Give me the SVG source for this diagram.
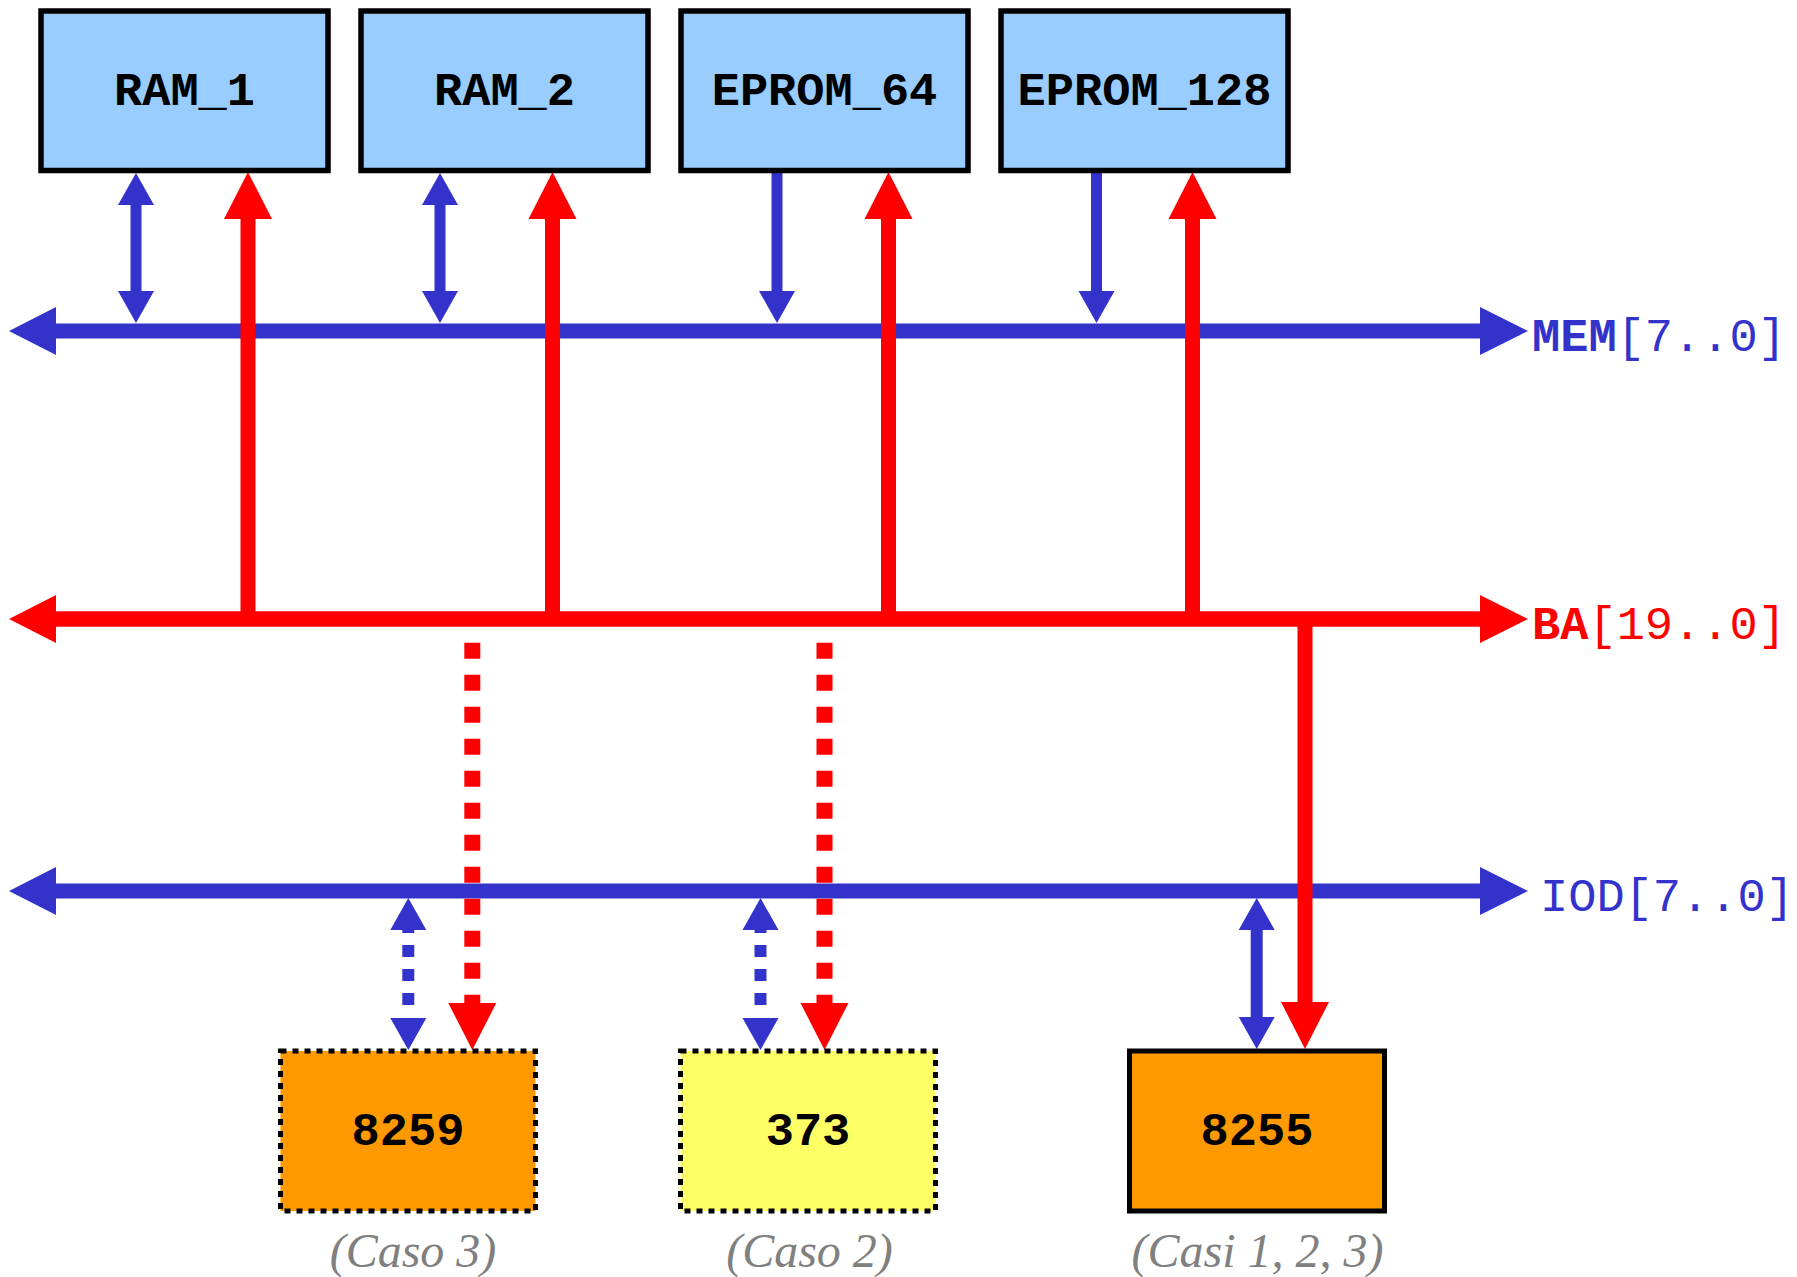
<svg xmlns="http://www.w3.org/2000/svg" xmlns:xlink="http://www.w3.org/1999/xlink" width="1797" height="1277" viewBox="0 0 1797 1277">
<style>
.mem{fill:#99CCFF;stroke:#000;stroke-width:5.5}
.io{stroke:#000;stroke-width:5}
.dot{stroke-dasharray:6 6}
.lbl{font-family:"Liberation Mono","Courier New",monospace;font-weight:bold;font-size:47px;fill:#000;text-anchor:middle}
.bus{font-family:"Liberation Mono","Courier New",monospace;font-size:47px}
.note{font-family:"Liberation Serif","Times New Roman",serif;font-style:italic;font-size:48px;fill:#808080;text-anchor:middle}
.b{stroke:#3333CC;fill:none}
.r{stroke:#FF0000;fill:none}
.bf{fill:#3333CC}
.rf{fill:#FF0000}
</style>
<defs>
<path id="bUp" d="M0,0 L18,32 L-18,32 Z"/>
<path id="bDn" d="M0,0 L18,-32 L-18,-32 Z"/>
<path id="rUp" d="M0,0 L24,47 L-24,47 Z"/>
<path id="rDn" d="M0,0 L24,-47 L-24,-47 Z"/>
<path id="hL" d="M0,0 L47,-24 L47,24 Z"/>
<path id="hR" d="M0,0 L-48,-24 L-48,24 Z"/>
</defs>
<rect width="1797" height="1277" fill="#fff"/>
<g id="connectors">
<line class="b" x1="50" y1="331" x2="1485" y2="331" stroke-width="15"/>
<use href="#hL" x="9" y="331" class="bf"/><use href="#hR" x="1528" y="331" class="bf"/>
<line class="r" x1="248" y1="210" x2="248" y2="619" stroke-width="15"/>
<use href="#rUp" x="248" y="172" class="rf"/>
<line class="r" x1="552.5" y1="210" x2="552.5" y2="619" stroke-width="15"/>
<use href="#rUp" x="552.5" y="172" class="rf"/>
<line class="r" x1="888.5" y1="210" x2="888.5" y2="619" stroke-width="15"/>
<use href="#rUp" x="888.5" y="172" class="rf"/>
<line class="r" x1="1192.5" y1="210" x2="1192.5" y2="619" stroke-width="15"/>
<use href="#rUp" x="1192.5" y="172" class="rf"/>
<line class="b" x1="136" y1="200" x2="136" y2="300" stroke-width="11"/>
<use href="#bUp" x="136" y="173" class="bf"/><use href="#bDn" x="136" y="323" class="bf"/>
<line class="b" x1="440" y1="200" x2="440" y2="300" stroke-width="11"/>
<use href="#bUp" x="440" y="173" class="bf"/><use href="#bDn" x="440" y="323" class="bf"/>
<line class="b" x1="777" y1="172" x2="777" y2="300" stroke-width="11"/>
<use href="#bDn" x="777" y="323" class="bf"/>
<line class="b" x1="1096.5" y1="172" x2="1096.5" y2="300" stroke-width="11"/>
<use href="#bDn" x="1096.5" y="323" class="bf"/>
<line class="r" x1="50" y1="619" x2="1485" y2="619" stroke-width="15.5"/>
<use href="#hL" x="9" y="619" class="rf"/><use href="#hR" x="1528" y="619" class="rf"/>
<line class="b" x1="50" y1="891" x2="1485" y2="891" stroke-width="15"/>
<use href="#hL" x="9" y="891" class="bf"/><use href="#hR" x="1528" y="891" class="bf"/>
<line class="r" x1="472.3" y1="642.7" x2="472.3" y2="1004" stroke-width="16" stroke-dasharray="16 16"/>
<use href="#rDn" x="472.3" y="1050" class="rf"/>
<line class="r" x1="824.5" y1="642.7" x2="824.5" y2="1004" stroke-width="16" stroke-dasharray="16 16"/>
<use href="#rDn" x="824.5" y="1050" class="rf"/>
<line class="r" x1="1305" y1="612" x2="1305" y2="1005" stroke-width="15"/>
<use href="#rDn" x="1305" y="1049" class="rf"/>
<line class="b" x1="408.3" y1="921" x2="408.3" y2="1015" stroke-width="12" stroke-dasharray="12 12"/>
<use href="#bUp" x="408.3" y="898" class="bf"/><use href="#bDn" x="408.3" y="1050" class="bf"/>
<line class="b" x1="760.5" y1="921" x2="760.5" y2="1015" stroke-width="12" stroke-dasharray="12 12"/>
<use href="#bUp" x="760.5" y="898" class="bf"/><use href="#bDn" x="760.5" y="1050" class="bf"/>
<line class="b" x1="1256.7" y1="925" x2="1256.7" y2="1022" stroke-width="12"/>
<use href="#bUp" x="1256.7" y="898" class="bf"/><use href="#bDn" x="1256.7" y="1049" class="bf"/>
</g>
<g id="bus-labels">
<text class="bus" x="1532" y="351" fill="#3333CC"><tspan font-weight="bold">MEM</tspan>[7..0]</text>
<text class="bus" x="1532" y="639" fill="#FF0000"><tspan font-weight="bold">BA</tspan>[19..0]</text>
<text class="bus" x="1540" y="911" fill="#3333CC">IOD[7..0]</text>
</g>
<g id="ram1"><rect class="mem" x="41" y="11" width="287" height="159.5"/><text class="lbl" x="184.5" y="105">RAM_1</text></g>
<g id="ram2"><rect class="mem" x="361" y="11" width="287" height="159.5"/><text class="lbl" x="504.5" y="105">RAM_2</text></g>
<g id="eprom64"><rect class="mem" x="681" y="11" width="287" height="159.5"/><text class="lbl" x="824.5" y="105">EPROM_64</text></g>
<g id="eprom128"><rect class="mem" x="1001" y="11" width="287" height="159.5"/><text class="lbl" x="1144.5" y="105">EPROM_128</text></g>
<g id="ic8259"><rect class="io dot" x="280.5" y="1051" width="255" height="160" fill="#FF9900"/><text class="lbl" x="408" y="1145">8259</text><text class="note" x="413" y="1267">(Caso 3)</text></g>
<g id="ic373"><rect class="io dot" x="680.5" y="1051" width="255" height="160" fill="#FFFF66"/><text class="lbl" x="808" y="1145">373</text><text class="note" x="809.5" y="1267">(Caso 2)</text></g>
<g id="ic8255"><rect class="io" x="1129.5" y="1051" width="255" height="160" fill="#FF9900" stroke-width="6"/><text class="lbl" x="1257" y="1145">8255</text><text class="note" x="1257.5" y="1267">(Casi 1, 2, 3)</text></g>
</svg>
